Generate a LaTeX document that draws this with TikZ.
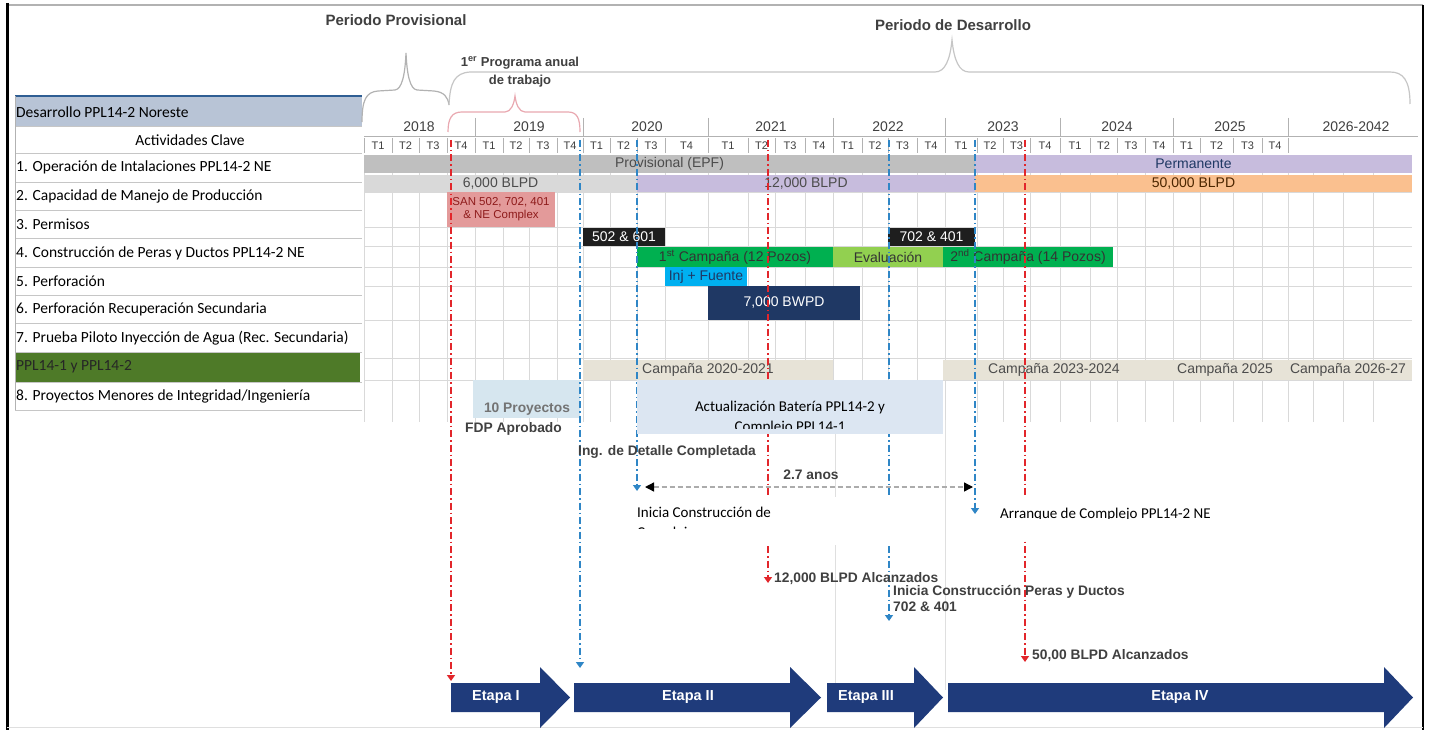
\documentclass[tikz,border=0pt]{standalone}
\usepackage{fontspec}
\setmainfont{Liberation Sans}
\newfontfamily\calfont{Carlito}
\usetikzlibrary{arrows.meta}
\definecolor{gbar}{HTML}{BFBFBF}
\definecolor{lgbar}{HTML}{D9D9D9}
\definecolor{lav}{HTML}{C7BCDD}
\definecolor{orng}{HTML}{FAC08F}
\definecolor{pinkb}{HTML}{E39A9A}
\definecolor{dred}{HTML}{8E1B1B}
\definecolor{blk}{HTML}{1E1E1E}
\definecolor{grn}{HTML}{00B050}
\definecolor{lgrn}{HTML}{92D050}
\definecolor{cyanb}{HTML}{00B0F0}
\definecolor{navyb}{HTML}{1F3864}
\definecolor{beige}{HTML}{E7E3D7}
\definecolor{lblue}{HTML}{D6E6EF}
\definecolor{abox}{HTML}{DCE6F2}
\definecolor{hdr}{HTML}{B8C4D6}
\definecolor{hdrline}{HTML}{2F5E93}
\definecolor{ggreen}{HTML}{4E7A28}
\definecolor{mred}{HTML}{E2262B}
\definecolor{mblue}{HTML}{2F86C6}
\definecolor{etapac}{HTML}{1F3B7B}
\definecolor{pinkbr}{HTML}{E9A8B0}
\begin{document}
\begin{tikzpicture}[x=1pt,y=-1pt,
  tbl/.style={font=\calfont\fontsize{15.5}{17}\selectfont, anchor=west, inner sep=0pt},
  bx/.style={inner sep=0pt, outer sep=0pt, font=\fontsize{14}{16}\selectfont},
  qlab/.style={inner sep=0pt, font=\fontsize{11}{12}\selectfont, text=black!75},
  ylab/.style={inner sep=0pt, font=\fontsize{14}{16}\selectfont, text=black!75},
  mk/.style={inner sep=0pt, anchor=west, font=\bfseries\fontsize{13.8}{15}\selectfont, text=black!75},
  redmk/.style={draw=mred, line width=1.7pt, dash pattern=on 7pt off 3pt on 1.5pt off 3pt, -{Triangle[width=8pt,length=6pt]}},
  bluemk/.style={draw=mblue, line width=1.7pt, dash pattern=on 7pt off 3pt on 1.5pt off 3pt, -{Triangle[width=8pt,length=6pt]}},
  callout/.style={inner sep=0pt, font=\calfont\fontsize{15}{18}\selectfont},
  gridln/.style={draw=gray!30, line width=0.8pt},
  etp/.style={text=white, font=\bfseries\fontsize{14.5}{16}\selectfont, inner sep=0pt},
  ttl/.style={font=\bfseries\fontsize{15}{17}\selectfont, text=black!75, inner sep=0pt},
  sub/.style={font=\bfseries\fontsize{13}{15}\selectfont, text=black!75, inner sep=0pt}]
\useasboundingbox (0,0) rectangle (1431,730);
\fill[white] (0,0) rectangle (1431,730);
% frame
\draw[gray!60, line width=1.5pt] (7,5) -- (1423,5);
\draw[black, line width=3pt] (7,3) -- (7,730);
\draw[black, line width=2pt] (1423,5) -- (1423,730);
\draw[gray!25, line width=1pt] (7,727) -- (1423,727);

% left table
\fill[hdr] (15,97) rectangle (362,126);
\draw[hdrline, line width=2.5pt] (15,96) -- (362,96);
\fill[ggreen] (15,352) rectangle (360,382);
\foreach \y in {126,153,182,210,238,267,295,323,352,382,410}
  \draw[gray!45, line width=0.8pt] (15,\y) -- (362,\y);
\draw[gray!60, line width=1pt] (15,96) -- (15,410);
\node[tbl] (t0) at (16,112) {Desarrollo PPL14-2 Noreste};
\node[tbl, anchor=center] (tac) at (190,140) {Actividades Clave};
\node[tbl] (t1) at (16,167) {1. Operación de Intalaciones PPL14-2 NE};
\node[tbl] (t2) at (16,196) {2. Capacidad de Manejo de Producción};
\node[tbl] (t3) at (16,224) {3. Permisos};
\node[tbl] (t4) at (16,253) {4. Construcción de Peras y Ductos PPL14-2 NE};
\node[tbl] (t5) at (16,281) {5. Perforación};
\node[tbl] (t6) at (16,309) {6. Perforación Recuperación Secundaria};
\node[tbl] (t7) at (16,338) {7. Prueba Piloto Inyección de Agua (Rec. Secundaria)};
\node[tbl, text=black!85] (tg) at (16,367) {PPL14-1 y PPL14-2};
\node[tbl] (t8) at (16,396) {8. Proyectos Menores de Integridad/Ingeniería};

% chart grid
\foreach \x in {364,392,419,447,475,503,529,557,583,610,637,665,708,748,775,805,833,862,888,917,945,977,1003,1030,1060,1090,1117,1145,1173,1200,1233,1262,1288,1313,1343,1373}
  \draw[gridln] (\x,173) -- (\x,422);
\foreach \y in {192,227,246,267,286,320,358,380}
  \draw[gridln] (364,\y) -- (1412,\y);
\draw[gray!25, line width=0.8pt] (835,420) -- (835,690);
\draw[gray!25, line width=0.8pt] (945,420) -- (945,690);

% header
\draw[gray!60, line width=1pt] (364,137) -- (1418,137);
\foreach \x in {475,583,708,833,945,1060,1173,1288}
  \draw[gray!60, line width=1pt] (\x,118) -- (\x,137);
\foreach \x in {364,392,419,447,475,503,529,557,583,610,637,665,708,748,775,805,833,862,888,917,945,977,1003,1030,1060,1090,1117,1145,1173,1200,1233,1262,1288}
  \draw[gray!60, line width=0.8pt] (\x,138) -- (\x,153);
\foreach \x/\t [count=\i] in {419/2018,529/2019,647/2020,771/2021,888/2022,1003/2023,1117/2024,1230/2025,1356/2026-2042}
  \node[ylab] (y\i) at (\x,127) {\t};
\foreach \x/\t [count=\i] in {378/T1,405.5/T2,433/T3,461/T4,489/T1,516/T2,543/T3,570/T4,596.5/T1,623.5/T2,651/T3,686.5/T4,728/T1,761.5/T2,790/T3,819/T4,847.5/T1,875/T2,902.5/T3,931/T4,961/T1,990/T2,1016.5/T3,1045/T4,1075/T1,1103.5/T2,1131/T3,1159/T4,1186.5/T1,1216.5/T2,1247.5/T3,1275/T4}
  \node[qlab] (q\i) at (\x,145.5) {\t};

% bars
\node[bx, fill=gbar, minimum width=611pt, minimum height=18pt, text=black!70] (prov) at (669.5,164) {Provisional (EPF)};
\node[bx, fill=lav, minimum width=437pt, minimum height=18pt, text=navyb] (perm) at (1193.5,164) {Permanente};
\node[bx, fill=lgbar, minimum width=273pt, minimum height=17pt, text=black!70] (b6k) at (500.5,183.5) {6,000 BLPD};
\node[bx, fill=lav, minimum width=338pt, minimum height=17pt, text=black!70] (b12k) at (806,183.5) {12,000 BLPD};
\node[bx, fill=orng, minimum width=437pt, minimum height=17pt, text=black!70!orange] (b50k) at (1193.5,183.5) {50,000 BLPD};
\node[bx, fill=pinkb, minimum width=108pt, minimum height=35pt, text=dred, font=\fontsize{11.5}{13}\selectfont, align=center] (san) at (501,209.5) {SAN 502, 702, 401\\\& NE Complex};
\node[bx, fill=blk, minimum width=82pt, minimum height=18pt, text=white] (p502) at (624,237) {502 \& 601};
\node[bx, fill=blk, minimum width=87pt, minimum height=18pt, text=white] (p702) at (931.5,237) {702 \& 401};
\node[bx, fill=grn, minimum width=196pt, minimum height=20pt, text=black!80] (c1) at (735,257) {1\textsuperscript{st} Campaña (12 Pozos)};
\node[bx, fill=lgrn, minimum width=110pt, minimum height=20pt, text=black!80] (ev) at (888,257) {Evaluación};
\node[bx, fill=grn, minimum width=170pt, minimum height=20pt, text=black!80] (c2) at (1028,257) {2\textsuperscript{nd} Campaña (14 Pozos)};
\node[bx, fill=cyanb, minimum width=82pt, minimum height=19pt, text=navyb] (inj) at (706,276.5) {Inj + Fuente};
\node[bx, fill=navyb, minimum width=152pt, minimum height=34pt, text=white] (bw) at (784,303) {7,000 BWPD};
\node[bx, fill=beige, minimum width=250pt, minimum height=20pt, text=black!70] (cp1) at (708,370) {Campaña 2020-2021};
\node[bx, fill=beige, minimum width=469pt, minimum height=20pt] (cpb) at (1177.5,370) {};
\node[bx, text=black!70] (cp2) at (1054,370) {Campaña 2023-2024};
\node[bx, text=black!70] (cp3) at (1225,370) {Campaña 2025};
\node[bx, text=black!70] (cp4) at (1348,370) {Campaña 2026-27};
\node[bx, fill=lblue, minimum width=107pt, minimum height=38pt] (p10box) at (526.5,399) {};

% braces
\draw[gray!60, line width=1.2pt] (362,122) .. controls (362,100) and (366,92) .. (378,91) -- (395,90) .. controls (402,89) and (405,75) .. (406,53) .. controls (407,75) and (410,89) .. (417,90) -- (434,91) .. controls (444,92) and (448,97) .. (449,105);
\draw[gray!45, line width=1.2pt] (449,105) .. controls (450,82) and (455,73) .. (470,72) -- (935,72) .. controls (945,72) and (950,60) .. (952,40) .. controls (954,60) and (959,72) .. (969,72) -- (1390,72) .. controls (1403,72) and (1410,80) .. (1410,104);
\draw[pinkbr, line width=1.2pt] (448,132) .. controls (448,118) and (452,112) .. (462,112) -- (505,112) .. controls (511,112) and (514,104) .. (515,96) .. controls (516,104) and (519,112) .. (525,112) -- (568,112) .. controls (577,112) and (580,118) .. (580,132);
\node[ttl] (pp) at (396,20) {Periodo Provisional};
\node[ttl] (pd) at (953,25) {Periodo de Desarrollo};
\node[sub] (pa1) at (520,63) {1\textsuperscript{er} Programa anual};
\node[sub] (pa2) at (520,81) {de trabajo};

% markers
\coordinate (r1a) at (451,140); \coordinate (r1b) at (451,681);
\coordinate (b1a) at (580,140); \coordinate (b1b) at (580,668);
\coordinate (b2a) at (637,140); \coordinate (b2b) at (637,491);
\coordinate (r2a) at (768,140); \coordinate (r2b) at (768,583);
\coordinate (b3a) at (889,140); \coordinate (b3b) at (889,621);
\coordinate (b4a) at (975,140); \coordinate (b4b) at (975,514);
\coordinate (r3a) at (1025,140); \coordinate (r3b) at (1025,662);
\draw[redmk] (r1a) -- (r1b);
\draw[bluemk] (b1a) -- (b1b);
\draw[bluemk] (b2a) -- (b2b);
\draw[redmk] (r2a) -- (r2b);
\draw[bluemk] (b3a) -- (b3b);
\draw[bluemk] (b4a) -- (b4b);
\draw[redmk] (r3a) -- (r3b);

% 2.7 years arrow
\coordinate (d1) at (645,487); \coordinate (d2) at (973,487);
\draw[draw=gray!65, line width=1.3pt, dash pattern=on 5pt off 3pt, {Triangle[width=9pt,length=9pt,color=black]}-{Triangle[width=9pt,length=9pt,color=black]}] (d1) -- (d2);
\node[mk, anchor=center] (dur) at (811,475) {2.7 anos};

% boxes over lines
\node[bx, fill=abox, minimum width=306pt, minimum height=54pt] (actbox) at (790,407) {};
\begin{scope}
\clip (637,380) rectangle (943,428);
\node[callout] (act1) at (790,407) {Actualización Batería PPL14-2 y};
\node[callout] (act2) at (790,428) {Complejo PPL14-1};
\end{scope}
\fill[white] (630,497) rectangle (905,545);
\fill[white] (992,497) rectangle (1262,540);
\begin{scope}
\clip (630,497) rectangle (905,528);
\node[callout, anchor=base west] (ini1) at (637,517) {Inicia Construcción de};
\node[callout, anchor=base west] (ini2) at (637,537) {Complejo};
\end{scope}
\begin{scope}
\clip (992,497) rectangle (1262,518.5);
\node[callout, anchor=base west] (arr) at (1000,518) {Arranque de Complejo PPL14-2 NE};
\end{scope}

% marker labels
\node[mk, text=black!55, anchor=center] (p10) at (527,409) {10 Proyectos};
\node[mk] (fdp) at (465,429) {FDP Aprobado};
\node[mk] (ing) at (578,452) {Ing. de Detalle Completada};
\node[mk] (m12) at (774,579) {12,000 BLPD Alcanzados};
\node[mk] (icp1) at (893,592) {Inicia Construcción Peras y Ductos};
\node[mk] (icp2) at (893,607) {702 \& 401};
\node[mk] (m50) at (1032,656) {50,00 BLPD Alcanzados};

% etapas
\fill[etapac] (451,683) -- (540,683) -- (540,667) -- (570,697.5) -- (540,728) -- (540,712) -- (451,712) -- cycle;
\fill[etapac] (574,683) -- (790,683) -- (790,667) -- (821,697.5) -- (790,728) -- (790,712) -- (574,712) -- cycle;
\fill[etapac] (827,683) -- (914,683) -- (914,667) -- (943,697.5) -- (914,728) -- (914,712) -- (827,712) -- cycle;
\fill[etapac] (948,683) -- (1384,683) -- (1384,667) -- (1413,697.5) -- (1384,728) -- (1384,712) -- (948,712) -- cycle;
\node[etp] (e1) at (496,697.5) {Etapa I};
\node[etp] (e2) at (688,697.5) {Etapa II};
\node[etp] (e3) at (866,697.5) {Etapa III};
\node[etp] (e4) at (1180,697.5) {Etapa IV};
\end{tikzpicture}
\end{document}
